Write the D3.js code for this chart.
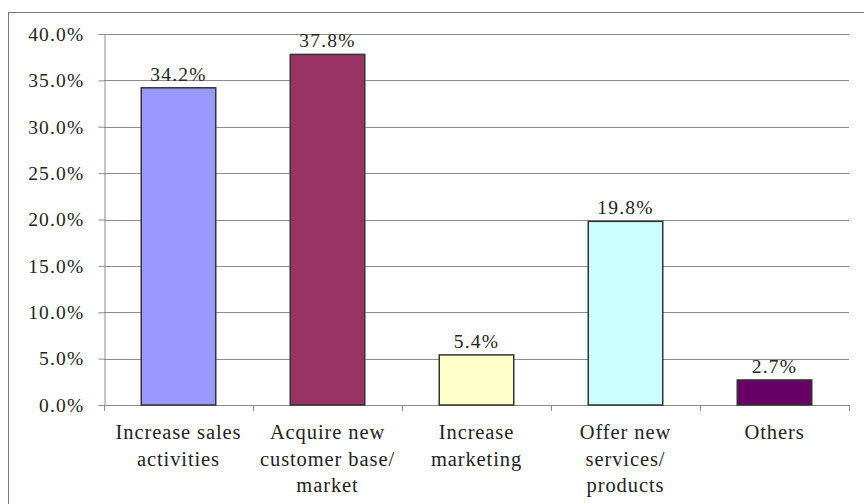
<!DOCTYPE html>
<html>
<head>
<meta charset="utf-8">
<script src="https://cdn.jsdelivr.net/npm/d3@7"></script>
<style>
  html, body { margin: 0; padding: 0; background: #fff; }
  svg text { font-family: "Liberation Serif", "DejaVu Serif", serif; fill: #222; }
</style>
</head>
<body>
<svg id="chart" width="864" height="504"></svg>
<script>
// Share of respondents by primary goal
const categories = [
  ["Increase sales", "activities"],
  ["Acquire new", "customer base/", "market"],
  ["Increase", "marketing"],
  ["Offer new", "services/", "products"],
  ["Others"]
];
const values = [34.2, 37.8, 5.4, 19.8, 2.7];
const colors = ["#9999FF", "#993366", "#FFFFCC", "#CCFFFF", "#660066"];
const yTicks = [0, 5, 10, 15, 20, 25, 30, 35, 40];

const svg = d3.select("#chart");
const plot = { left: 104, right: 849, top: 34, bottom: 405 };

// Outer frame
svg.append("rect")
  .attr("x", 8.5).attr("y", 12.5)
  .attr("width", 870).attr("height", 500)
  .attr("fill", "none").attr("stroke", "#7a7a7a").attr("stroke-width", 1);

const x = d3.scaleBand()
  .domain(d3.range(values.length))
  .range([plot.left, plot.right])
  .paddingInner(0.5).paddingOuter(0.25);

const y = d3.scaleLinear().domain([0, 40]).range([plot.bottom, plot.top]);

// Horizontal gridlines
svg.append("g").selectAll("line")
  .data(yTicks.filter(t => t > 0))
  .join("line")
  .attr("x1", plot.left).attr("x2", plot.right)
  .attr("y1", d => Math.round(y(d)) + 0.5).attr("y2", d => Math.round(y(d)) + 0.5)
  .attr("stroke", "#8c8c8c").attr("stroke-width", 1);

// Y axis
const yAxis = svg.append("g")
  .attr("transform", `translate(${plot.left + 0.5},0)`)
  .call(d3.axisLeft(y).tickValues(yTicks).tickSize(6).tickPadding(14)
    .tickFormat(d => d.toFixed(1) + "%"));
yAxis.select(".domain").attr("stroke", "#8c8c8c");
yAxis.selectAll(".tick line").attr("stroke", "#8c8c8c");
yAxis.selectAll(".tick text")
  .attr("font-size", 19.5).attr("fill", "#222")
  .attr("letter-spacing", 1.2)
  .attr("font-family", "'Liberation Serif', serif");

// X axis baseline with category boundary ticks
const step = x.step();
const bounds = d3.range(values.length + 1).map(i => plot.left + i * step);
svg.append("line")
  .attr("x1", plot.left).attr("x2", plot.right)
  .attr("y1", plot.bottom + 0.5).attr("y2", plot.bottom + 0.5)
  .attr("stroke", "#8c8c8c");
svg.append("g").selectAll("line")
  .data(bounds)
  .join("line")
  .attr("x1", d => Math.round(d) + 0.5).attr("x2", d => Math.round(d) + 0.5)
  .attr("y1", plot.bottom).attr("y2", plot.bottom + 6)
  .attr("stroke", "#8c8c8c");

// Bars
svg.append("g").selectAll("rect")
  .data(values)
  .join("rect")
  .attr("x", (d, i) => x(i))
  .attr("y", d => y(d))
  .attr("width", x.bandwidth())
  .attr("height", d => y(0) - y(d))
  .attr("fill", (d, i) => colors[i])
  .attr("stroke", "#333")
  .attr("stroke-width", 1.5);

// Value labels
svg.append("g").selectAll("text")
  .data(values)
  .join("text")
  .attr("x", (d, i) => x(i) + x.bandwidth() / 2)
  .attr("y", d => y(d) - 7)
  .attr("text-anchor", "middle")
  .attr("font-size", 19.5)
  .attr("letter-spacing", 1.2)
  .text(d => d.toFixed(1) + "%");

// Category labels
const catG = svg.append("g").selectAll("text")
  .data(categories)
  .join("text")
  .attr("x", (d, i) => x(i) + x.bandwidth() / 2)
  .attr("y", 439)
  .attr("text-anchor", "middle")
  .attr("font-size", 20.5)
  .attr("letter-spacing", 0.9);
catG.selectAll("tspan")
  .data(d => d)
  .join("tspan")
  .attr("x", function() { return d3.select(this.parentNode).attr("x"); })
  .attr("dy", (d, i) => i === 0 ? 0 : 26.5)
  .text(d => d);
</script>
</body>
</html>
